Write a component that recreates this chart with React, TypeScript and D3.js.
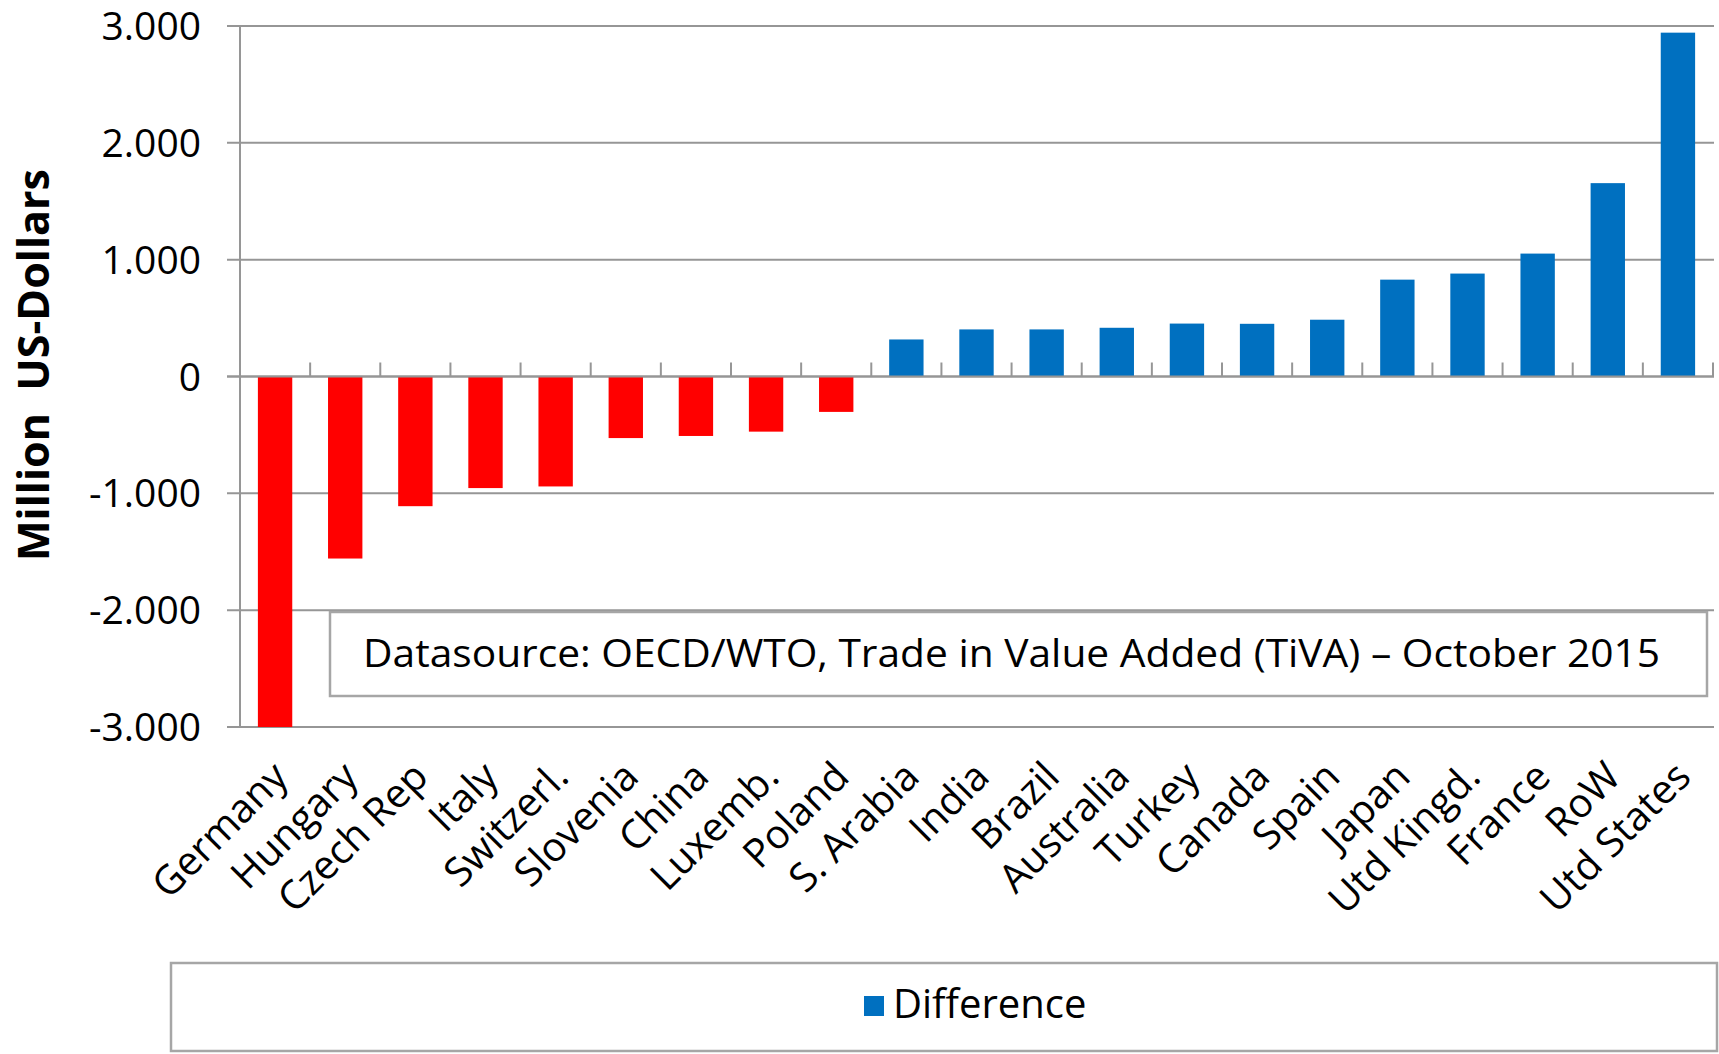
import React from "react";
import * as d3 from "d3";

const categories = [
  "Germany", "Hungary", "Czech Rep", "Italy", "Switzerl.", "Slovenia", "China",
  "Luxemb.", "Poland", "S. Arabia", "India", "Brazil", "Australia", "Turkey",
  "Canada", "Spain", "Japan", "Utd Kingd.", "France", "RoW", "Utd States",
];
const difference = [
  -3000, -1558, -1110, -955, -941, -527, -509, -472, -303, 317, 403, 403, 417,
  453, 451, 486, 829, 881, 1052, 1655, 2943,
];
const yTicks = [-3000, -2000, -1000, 0, 1000, 2000, 3000];
const seriesName = "Difference";
const sourceNote = "Datasource: OECD/WTO, Trade in Value Added (TiVA) \u2013 October 2015";

const W = 1719,
  H = 1054;
const FONT = "'Open Sans', 'Noto Sans', sans-serif";

const locale = d3.formatLocale({
  decimal: ",",
  thousands: ".",
  grouping: [3],
  currency: ["", ""],
  minus: "-",
});
const fmt = locale.format(",d");

export default function App() {
  const x = d3
    .scaleBand<string>()
    .domain(categories)
    .range([240, 1713])
    .paddingInner(0.51)
    .paddingOuter(0.255);
  const y = d3.scaleLinear().domain([-3000, 3000]).range([727, 26]);
  const step = x.step();
  const y0 = y(0);

  return (
    <div style={{ position: "absolute", left: 0, top: 0 }}>
      <svg width={W} height={H} style={{ display: "block", background: "#fff" }}>
        {/* gridlines + y ticks */}
        {yTicks.map((t) => (
          <g key={t}>
            <line x1={227} x2={1714} y1={y(t)} y2={y(t)} stroke="#969696" strokeWidth={2} />
            <text
              x={201}
              y={y(t)}
              dy="0.36em"
              textAnchor="end"
              fontFamily={FONT}
              fontSize={39}
              fill="#000"
            >
              {fmt(t)}
            </text>
          </g>
        ))}
        {/* y axis line */}
        <line x1={240} x2={240} y1={y(3000)} y2={y(-3000)} stroke="#969696" strokeWidth={2} />

        {/* data source note */}
        <rect x={330} y={612} width={1377} height={84} fill="#fff" stroke="#a6a6a6" strokeWidth={2.5} />
        <text
          x={363}
          y={667}
          fontFamily={FONT}
          fontSize={38}
          fill="#000"
          textLength={1297}
          lengthAdjust="spacingAndGlyphs"
        >
          {sourceNote}
        </text>

        {/* bars */}
        {categories.map((c, i) => {
          const v = difference[i];
          return (
            <rect
              key={c}
              x={x(c)}
              y={Math.min(y(v), y0)}
              width={x.bandwidth()}
              height={Math.abs(y(v) - y0)}
              fill={v < 0 ? "#ff0000" : "#0070c0"}
            />
          );
        })}

        {/* zero axis with category ticks */}
        <line x1={227} x2={1714} y1={y0} y2={y0} stroke="#969696" strokeWidth={2} />
        {d3.range(1, categories.length + 1).map((k) => (
          <line
            key={k}
            x1={240 + k * step}
            x2={240 + k * step}
            y1={y0 - 14}
            y2={y0}
            stroke="#969696"
            strokeWidth={2}
          />
        ))}

        {/* category labels */}
        {categories.map((c) => {
          const cx = (x(c) as number) + x.bandwidth() / 2;
          return (
            <text
              key={c}
              transform={`translate(${cx + 15},${779}) rotate(-45)`}
              textAnchor="end"
              fontFamily={FONT}
              fontSize={40}
              fill="#000"
            >
              {c}
            </text>
          );
        })}

        {/* y axis title */}
        <text
          transform={`translate(49,365) rotate(-90)`}
          textAnchor="middle"
          fontFamily={FONT}
          fontSize={43}
          fontWeight="bold"
          fill="#000"
          style={{ whiteSpace: "pre" }}
        >
          {"Million  US-Dollars"}
        </text>

        {/* legend */}
        <rect x={171} y={963} width={1546} height={88} fill="#fff" stroke="#a6a6a6" strokeWidth={2.5} />
        <rect x={864} y={996} width={20} height={20} fill="#0070c0" />
        <text x={893} y={1018} fontFamily={FONT} fontSize={40} fill="#000">
          {seriesName}
        </text>
      </svg>
    </div>
  );
}
